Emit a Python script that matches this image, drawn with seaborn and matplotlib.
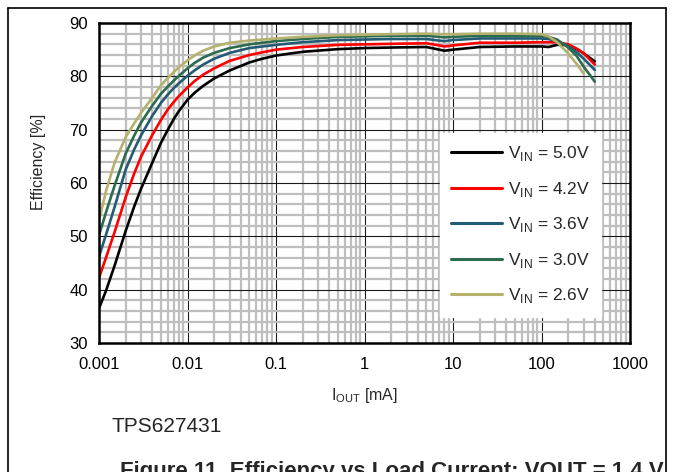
import numpy as np
import pandas as pd
import matplotlib
matplotlib.use("Agg")
import matplotlib.pyplot as plt
import seaborn as sns
from matplotlib.lines import Line2D
from matplotlib.ticker import FixedLocator, FixedFormatter, MultipleLocator, NullFormatter

# ---- data ----
iout_ma = [0.001, 0.0012, 0.0015, 0.002, 0.0025, 0.003, 0.004, 0.005, 0.006, 0.007, 0.008,
           0.01, 0.012, 0.015, 0.02, 0.03, 0.05, 0.07, 0.1, 0.2, 0.5, 1, 2, 5, 7, 8, 10,
           20, 50, 100, 120, 150, 200, 250, 300, 400]

eff_5v0 = [36.5, 39.8, 44.5, 51.0, 55.6, 59.0, 63.8, 67.5, 70.0, 72.0, 73.5,
           75.6, 76.9, 78.2, 79.6, 81.1, 82.6, 83.3, 83.9, 84.6, 85.1, 85.3, 85.4, 85.5, 85.0, 84.8, 85.0,
           85.5, 85.6, 85.6, 85.5, 85.9, 85.9, 85.1, 84.3, 82.8]
eff_4v2 = [42.2, 46.0, 50.8, 57.3, 61.8, 65.0, 69.0, 71.8, 73.8, 75.2, 76.3,
           77.9, 79.1, 80.3, 81.5, 82.9, 84.0, 84.5, 85.0, 85.5, 85.9, 86.0, 86.1, 86.2, 85.8, 85.6, 85.8,
           86.3, 86.3, 86.4, 86.4, 86.4, 86.0, 85.2, 84.3, 82.2]
eff_3v6 = [46.2, 50.3, 55.5, 62.5, 66.3, 69.0, 72.6, 75.0, 76.6, 77.8, 78.7,
           80.1, 81.1, 82.2, 83.3, 84.4, 85.3, 85.6, 85.9, 86.4, 86.8, 86.9, 87.0, 87.0, 86.7, 86.6, 86.8,
           87.1, 87.1, 87.1, 87.0, 86.6, 85.7, 84.5, 83.3, 81.2]
eff_3v0 = [50.2, 54.5, 59.5, 65.5, 68.9, 71.4, 74.5, 76.7, 78.1, 79.2, 80.1,
           81.5, 82.5, 83.5, 84.4, 85.3, 86.0, 86.3, 86.6, 87.0, 87.4, 87.5, 87.6, 87.6, 87.4, 87.3, 87.4,
           87.6, 87.6, 87.6, 87.4, 86.9, 85.4, 83.8, 81.8, 79.0]
eff_2v6 = [53.0, 58.5, 63.8, 68.6, 71.2, 73.2, 76.0, 78.3, 79.7, 80.8, 81.7,
           83.0, 83.9, 84.8, 85.6, 86.3, 86.7, 86.9, 87.1, 87.4, 87.7, 87.8, 87.9, 88.0, 87.9, 87.9, 87.9,
           88.0, 88.0, 87.9, 87.5, 86.4, 84.3, 82.3, 80.5, np.nan]

series_names = ["5.0V", "4.2V", "3.6V", "3.0V", "2.6V"]
series_vals = [eff_5v0, eff_4v2, eff_3v6, eff_3v0, eff_2v6]
series_colors = ["#000000", "#FF0000", "#235A74", "#2D6B4E", "#B4B26C"]

xtick_vals = [0.001, 0.01, 0.1, 1, 10, 100, 1000]
xtick_labels = ["0.001", "0.01", "0.1", "1", "10", "100", "1000"]

# ---- long-form table ----
frames = []
for name, vals in zip(series_names, series_vals):
    frames.append(pd.DataFrame({"Iout": iout_ma, "Eff": vals, "Vin": name}))
df = pd.concat(frames, ignore_index=True).dropna()

sns.set_theme(style="white")
plt.rcParams["font.family"] = ["Liberation Sans", "DejaVu Sans"]
plt.rcParams["mathtext.fontset"] = "custom"
plt.rcParams["mathtext.rm"] = "Liberation Sans"

W, H = 673, 472
fig = plt.figure(figsize=(W / 100, H / 100), dpi=100)
ax_l, ax_r, ax_t, ax_b = 99, 630, 23, 343
ax = fig.add_axes([ax_l / W, 1 - ax_b / H, (ax_r - ax_l) / W, (ax_b - ax_t) / H])

sns.lineplot(data=df, x="Iout", y="Eff", hue="Vin", hue_order=series_names,
             palette=dict(zip(series_names, series_colors)), linewidth=1.9,
             ax=ax, legend=False, sort=True, estimator=None, zorder=3)

ax.set_xscale("log")
ax.set_xlim(0.001, 1000)
ax.set_ylim(30, 90)
ax.xaxis.set_major_locator(FixedLocator(xtick_vals))
ax.xaxis.set_major_formatter(FixedFormatter(xtick_labels))
minor_x = [m * 10.0 ** e for e in range(-3, 3) for m in range(2, 10)]
ax.xaxis.set_minor_locator(FixedLocator(minor_x))
ax.xaxis.set_minor_formatter(NullFormatter())
ax.yaxis.set_major_locator(MultipleLocator(10))
ax.yaxis.set_minor_locator(MultipleLocator(2))

ax.grid(which="minor", color="#BEBEBE", linewidth=1.6, zorder=0)
ax.grid(which="major", color="#1A1A1A", linewidth=0.8, zorder=1)
ax.set_axisbelow(True)

ax.tick_params(which="both", length=0, labelsize=12, colors="black")
ax.tick_params(axis="x", pad=10)
ax.tick_params(axis="y", pad=8)
for s in ax.spines.values():
    s.set_color("black")
    s.set_linewidth(1.8)
    s.set_zorder(5)

ax.set_xlabel(r"I$_{\mathregular{OUT}}$ [mA]", fontsize=11.5, labelpad=10)
ax.set_ylabel("Efficiency [%]", fontsize=11.5)
ax.yaxis.set_label_coords((46 - ax_l) / (ax_r - ax_l), (ax_b - 162) / (ax_b - ax_t))

handles = [Line2D([0], [0], color=c, lw=2.2) for c in series_colors]
labels = [r"V$_{\mathregular{IN}}$ = " + n for n in series_names]
leg = ax.legend(handles, labels, loc="upper left", bbox_to_anchor=(0.642, 0.656),
                borderaxespad=0, frameon=True, fancybox=False, framealpha=1,
                facecolor="white", edgecolor="white", fontsize=12.5,
                handlelength=2.9, handletextpad=0.35, labelspacing=0.95, borderpad=0.65)
leg.set_zorder(6)

# page frame lines
fig.add_artist(Line2D([8 / W, 8 / W], [0, 1 - 8 / H], color="black", lw=1.2))
fig.add_artist(Line2D([8 / W, 666 / W], [1 - 8 / H, 1 - 8 / H], color="black", lw=1.2))
fig.add_artist(Line2D([666 / W, 666 / W], [0, 1 - 8 / H], color="black", lw=1.2))

fig.text(112 / W, 1 - 426 / H, "TPS627431", fontsize=15, ha="left", va="center")
fig.text(392 / W, 1 - 461 / H, "Figure 11. Efficiency vs Load Current; VOUT = 1.4 V",
         fontsize=16, fontweight="bold", ha="center", va="top")

fig.savefig("out.png", dpi=100)
